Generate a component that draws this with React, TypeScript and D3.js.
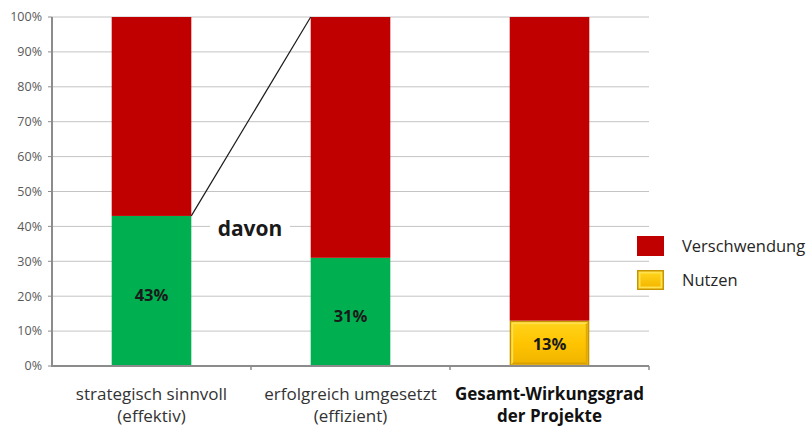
import React from "react";
import * as d3 from "d3";

const categories = ["strategisch sinnvoll|(effektiv)", "erfolgreich umgesetzt|(effizient)", "Gesamt-Wirkungsgrad|der Projekte"];
const nutzen = [43, 31, 13];
const verschwendung = [57, 69, 87];
const yTicks = [0, 10, 20, 30, 40, 50, 60, 70, 80, 90, 100];
const legendItems = ["Verschwendung", "Nutzen"];

const W = 808, H = 427;
const FONT = "'Open Sans', Lato, sans-serif";

export default function App() {
  const x = d3.scaleBand<string>().domain(categories).range([52, 649]).padding(0);
  const y = d3.scaleLinear().domain([0, 100]).range([366, 17]);
  const bw = x.bandwidth();
  const barW = bw * 0.4;
  const data = categories.map((c, i) => ({ cat: c, nutzen: nutzen[i], verschwendung: verschwendung[i] }));
  const stack = d3.stack<any>().keys(["nutzen", "verschwendung"]);
  const series = stack(data);
  const lowColors = ["#00b050", "#00b050", "url(#gold)"];
  const barX = (c: string) => (x(c) as number) + (bw - barW) / 2;

  const s0 = series[0];
  const lineX1 = barX(categories[0]) + barW;
  const lineY1 = y(s0[0][1]);
  const lineX2 = barX(categories[1]);
  const lineY2 = y(100);

  return (
    <svg width={W} height={H} style={{ position: "absolute", left: 0, top: 0, background: "#fff" }}>
      <defs>
        <linearGradient id="gold" x1="0" y1="0" x2="0" y2="1">
          <stop offset="0" stopColor="#ffd21a" />
          <stop offset="0.5" stopColor="#ffc400" />
          <stop offset="1" stopColor="#f0b400" />
        </linearGradient>
        <linearGradient id="goldL" x1="0" y1="0" x2="0" y2="1">
          <stop offset="0" stopColor="#ffd21a" />
          <stop offset="1" stopColor="#f5b800" />
        </linearGradient>
      </defs>
      {yTicks.map((t) => (
        <line key={t} x1={52} x2={649} y1={y(t)} y2={y(t)} stroke="#c4c4c4" strokeWidth={1} />
      ))}
      {yTicks.map((t) => (
        <g key={"l" + t}>
          <line x1={48} x2={52} y1={y(t)} y2={y(t)} stroke="#8c8c8c" strokeWidth={1} />
          <text x={42} y={y(t)} dy="0.35em" textAnchor="end" fontSize={12.5} fill="#595959" fontFamily={FONT}>
            {t}%
          </text>
        </g>
      ))}
      {series.map((s, si) =>
        s.map((d, i) => {
          const cat = categories[i];
          const isLow = si === 0;
          const fill = isLow ? lowColors[i] : "#c00000";
          const bx = barX(cat);
          const top = y(d[1]);
          const h = y(d[0]) - y(d[1]);
          if (isLow && i === 2) {
            return (
              <g key={si + "-" + i}>
                <rect x={bx} y={top} width={barW} height={h} fill="#c89400" />
                <rect x={bx + 1.5} y={top + 1.5} width={barW - 3} height={h - 3} fill="#ffe04d" />
                <rect x={bx + 3.5} y={top + 3.5} width={barW - 6} height={h - 6} fill="url(#gold)" />
                <polygon
                  points={`${bx + 1.5},${top + h - 1.5} ${bx + barW - 1.5},${top + h - 1.5} ${bx + barW - 3.5},${top + h - 3.5} ${bx + 3.5},${top + h - 3.5}`}
                  fill="#d9a000"
                />
                <polygon
                  points={`${bx + barW - 1.5},${top + 1.5} ${bx + barW - 1.5},${top + h - 1.5} ${bx + barW - 3.5},${top + h - 3.5} ${bx + barW - 3.5},${top + 3.5}`}
                  fill="#e0a800"
                />
              </g>
            );
          }
          return <rect key={si + "-" + i} x={bx} y={top} width={barW} height={h} fill={fill} />;
        })
      )}
      {s0.map((d, i) => (
        <text
          key={"v" + i}
          x={barX(categories[i]) + barW / 2}
          y={(y(d[0]) + y(d[1])) / 2 + (i === 2 ? 1 : 4)}
          dy="0.35em"
          textAnchor="middle"
          fontSize={16.5}
          fontWeight="bold"
          fill="#1a1a1a"
          fontFamily={FONT}
        >
          {nutzen[i]}%
        </text>
      ))}
      <line x1={52} x2={52} y1={y(100)} y2={y(0) + 1} stroke="#8c8c8c" strokeWidth={2} />
      <line x1={52} x2={649} y1={y(0)} y2={y(0)} stroke="#8c8c8c" strokeWidth={2} />
      {categories.map((c) => (
        <line key={"t" + c} x1={(x(c) as number) + bw} x2={(x(c) as number) + bw} y1={y(0)} y2={y(0) + 4} stroke="#8c8c8c" strokeWidth={1.5} />
      ))}
      <line x1={lineX1} y1={lineY1} x2={lineX2} y2={lineY2} stroke="#1a1a1a" strokeWidth={1.2} />
      <rect x={210} y={216} width={80} height={26} fill="#fff" />
      <text x={250} y={229} dy="0.35em" textAnchor="middle" fontSize={21} fontWeight="bold" fill="#1a1a1a" fontFamily={FONT}>
        davon
      </text>
      {categories.map((c, i) => {
        const lines = c.split("|");
        const cx = (x(c) as number) + bw / 2;
        return (
          <text
            key={"x" + i}
            textAnchor="middle"
            fontSize={17}
            fontWeight={i === 2 ? "bold" : "normal"}
            fill={i === 2 ? "#111" : "#333"}
            fontFamily={FONT}
          >
            {lines.map((ln, j) => (
              <tspan key={j} x={cx} y={400 + j * 22}>
                {ln}
              </tspan>
            ))}
          </text>
        );
      })}
      {legendItems.map((name, i) => {
        const ly = 236 + i * 34;
        return (
          <g key={name}>
            {i === 0 ? (
              <rect x={637} y={ly} width={27} height={20} fill="#c00000" />
            ) : (
              <g>
                <rect x={637} y={ly} width={27} height={20} fill="#c89400" />
                <rect x={638.5} y={ly + 1.5} width={24} height={17} fill="#ffe04d" />
                <rect x={640.5} y={ly + 3.5} width={20} height={13} fill="url(#goldL)" />
              </g>
            )}
            <text x={682} y={ly + 10} dy="0.35em" fontSize={16.5} fill="#262626" fontFamily={FONT}>
              {name}
            </text>
          </g>
        );
      })}
    </svg>
  );
}
